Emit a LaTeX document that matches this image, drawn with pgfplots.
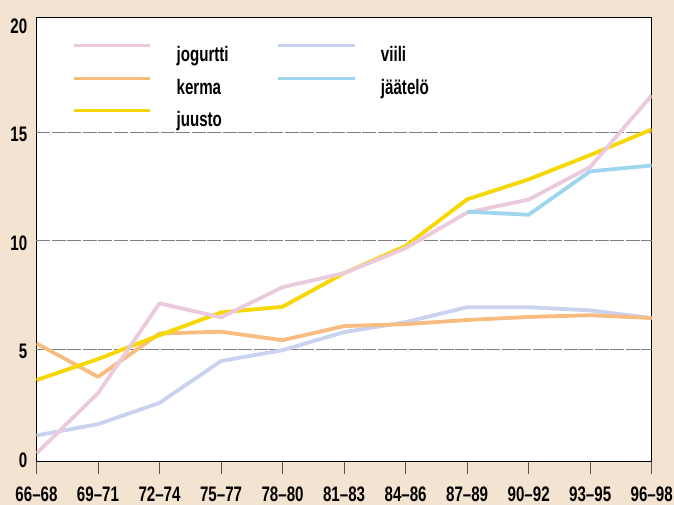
\documentclass[border=0pt]{standalone}
\usepackage{fontspec}
\setmainfont{Liberation Sans}[FakeStretch=0.72]
\usepackage{pgfplots}
\pgfplotsset{compat=1.18}
\definecolor{bgc}{HTML}{F3E4D1}
\definecolor{pinkc}{HTML}{EACADC}
\definecolor{orangec}{HTML}{F8BC80}
\definecolor{yellowc}{HTML}{F6D800}
\definecolor{viilic}{HTML}{C9D2EE}
\definecolor{jaatc}{HTML}{A0D5EE}
\definecolor{gridc}{HTML}{808080}
\definecolor{tickc}{HTML}{555555}
\begin{document}
\begin{tikzpicture}
\useasboundingbox (-36.5bp,-43.3bp) rectangle (637.5bp,461.7bp);
\fill[bgc] (-36.5bp,-43.3bp) rectangle (637.5bp,461.7bp);
\begin{axis}[
  at={(0,0)}, anchor=south west,
  scale only axis, width=615.2bp, height=444bp,
  xmin=0, xmax=10, ymin=-0.18, ymax=20.28,
  axis background/.style={fill=white},
  axis line style={black, line width=1.2bp},
  xtick={0,...,10},
  xticklabels={66--68,69--71,72--74,75--77,78--80,81--83,84--86,87--89,90--92,93--95,96--98},
  xtick pos=left, ytick pos=left, tick align=outside,
  major tick length=0pt,
  tick style={tickc, line width=1bp},
  xticklabel style={font=\fontsize{21bp}{24bp}\selectfont\bfseries, inner sep=0pt, anchor=north, yshift=-25bp},
  ytick={0,5,10,15,20},
  yticklabel style={font=\fontsize{21bp}{24bp}\selectfont\bfseries, inner sep=0pt, anchor=east, xshift=-9bp, yshift=-2bp},
  /pgf/number format/assume math mode=true,
  extra x ticks={0,...,10},
  extra x tick labels={},
  extra x tick style={/pgfplots/major tick length=12.6bp},
  extra y ticks={5,10,15},
  extra y tick labels={},
  extra y tick style={ymajorgrids=true},
  grid style={gridc, line width=1bp, dash pattern=on 14bp off 1.5bp},
  legend columns=2,
  legend cell align=left,
  legend image code/.code={\draw[#1] (0bp,10.5bp) -- (76.5bp,10.5bp);},
  legend style={draw=none, fill=none, inner sep=0pt, outer sep=0pt,
    at={(0.0582,0.9408)}, anchor=north west,
    font=\fontsize{21bp}{24bp}\selectfont\bfseries,
    row sep=10bp,
    nodes={inner sep=0pt, text height=16bp, text depth=5bp},
    /tikz/every odd column/.append style={column sep=24.6bp},
    /tikz/every even column/.append style={column sep=48bp}},
  every axis plot/.append style={line width=3.8bp, line join=round},
]
\addlegendimage{pinkc, line width=3.2bp}\addlegendentry{jogurtti}
\addlegendimage{viilic, line width=3.2bp}\addlegendentry{viili}
\addlegendimage{orangec, line width=3.2bp}\addlegendentry{kerma}
\addlegendimage{jaatc, line width=3.2bp}\addlegendentry{jäätelö}
\addlegendimage{yellowc, line width=3.2bp}\addlegendentry{juusto}

% viili
\addplot[viilic, forget plot] coordinates {(0,1.03) (1,1.55) (2,2.53) (3,4.46) (4,4.96) (5,5.79) (6,6.25) (7,6.94) (8,6.94) (9,6.79) (10,6.44)};
% kerma
\addplot[orangec, forget plot] coordinates {(0,5.27) (1,3.73) (2,5.73) (3,5.81) (4,5.42) (5,6.07) (6,6.16) (7,6.35) (8,6.49) (9,6.57) (10,6.44)};
% juusto
\addplot[yellowc, forget plot] coordinates {(0,3.58) (1,4.55) (2,5.65) (3,6.70) (4,6.96) (5,8.51) (6,9.76) (7,11.91) (8,12.83) (9,13.95) (10,15.13)};
% jogurtti
\addplot[pinkc, forget plot] coordinates {(0,0.20) (1,2.98) (2,7.12) (3,6.47) (4,7.86) (5,8.51) (6,9.66) (7,11.30) (8,11.90) (9,13.40) (10,16.70)};
% jaatelo
\addplot[jaatc, forget plot] coordinates {(7,11.34) (8,11.20) (9,13.20) (10,13.47)};
\end{axis}
\end{tikzpicture}
\end{document}
